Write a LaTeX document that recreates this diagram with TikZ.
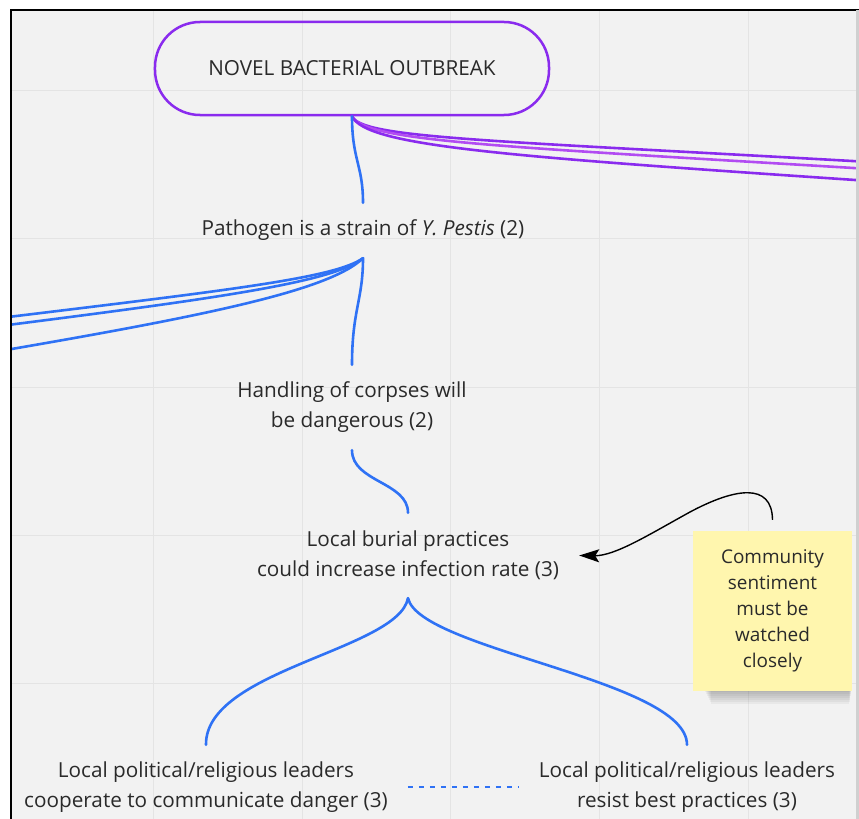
\documentclass[tikz,border=0pt]{standalone}
\usepackage{fontspec}
\setmainfont{Open Sans}
\usetikzlibrary{arrows.meta,calc}
\definecolor{bg}{HTML}{F2F2F2}
\definecolor{gridc}{HTML}{E4E4E4}
\definecolor{ink}{HTML}{2A2A2A}
\definecolor{bluel}{HTML}{2F72F5}
\definecolor{purp}{HTML}{8A2BEE}
\definecolor{purpl}{HTML}{B24CF2}
\definecolor{sticky}{HTML}{FFF6AE}
\tikzset{
  txt/.style={align=center, font=\fontsize{20.8}{30}\selectfont, text=ink, inner xsep=20bp, inner ysep=0pt},
  pill/.style={draw=purp, line width=2.5bp, rounded corners=45bp, minimum width=394bp, minimum height=93bp, font=\fontsize{20.8}{24}\selectfont, text=ink},
  conn/.style={draw=bluel, line width=2.6bp, line cap=round},
  pconn/.style={draw=purp, line width=2.6bp, line cap=round},
  note/.style={fill=sticky, minimum width=159bp, minimum height=160bp, align=center, font=\fontsize{19}{26}\selectfont, text=ink, inner sep=0pt}
}
\begin{document}
\begin{tikzpicture}[x=1bp,y=-1bp]
\useasboundingbox (0,0) rectangle (859,819);
\fill[white] (0,0) rectangle (859,819);
\fill[bg] (11,10) rectangle (859,819);
\begin{scope}
\clip (11,10) rectangle (856,819);
% grid
\foreach \gx in {153,302,450,599,748} \draw[gridc, line width=1bp] (\gx,10) -- (\gx,819);
\foreach \gy in {90,238,387,535,683} \draw[gridc, line width=1bp] (11,\gy) -- (859,\gy);

% nodes
\node[pill] (top) at (352,68.5) {NOVEL BACTERIAL OUTBREAK};
\node[txt, minimum height=55bp] (path) at (363,230.5) {Pathogen is a strain of \textit{Y. Pestis} (2)};
\node[txt, minimum height=85bp] (hand) at (352,407.5) {Handling of corpses will\\be dangerous (2)};
\node[txt, minimum height=85bp] (bur) at (408,555.5) {Local burial practices\\could increase infection rate (3)};
\node[txt, minimum height=84bp] (bl) at (206,787) {Local political/religious leaders\\cooperate to communicate danger (3)};
\node[txt, minimum height=84bp] (br) at (687,787) {Local political/religious leaders\\resist best practices (3)};

% sticky shadow
\foreach \k in {0,...,9}
  \fill[black, opacity=0.04] (702+\k,672+\k*0.5) rectangle (852-\k*0.3,686+\k*2);
\node[note] (note) at (772.5,611) {Community\\sentiment\\must be\\watched\\closely};

% off-frame coordinates
\coordinate (r1) at (870,162);
\coordinate (r2) at (870,169);
\coordinate (r3) at (870,181);
\coordinate (l1) at (0,318);
\coordinate (l2) at (0,326);
\coordinate (l3) at (0,351);

% purple connectors
\draw[pconn] (top.south) .. controls (362,138) and (480,140) .. (r1);
\draw[pconn, draw=purpl] (top.south) .. controls (364,141) and (490,146) .. (r2);
\draw[pconn] (top.south) .. controls (366,146) and (500,156) .. (r3);

% blue connectors
\draw[conn] (top.south) .. controls (352,160) and (363,165) .. (path.north);
\draw[conn] (path.south) .. controls (335,278) and (230,290) .. (l1);
\draw[conn] (path.south) .. controls (333,282) and (220,298) .. (l2);
\draw[conn] (path.south) .. controls (330,290) and (210,315) .. (l3);
\draw[conn] (path.south) .. controls (363,300) and (352,310) .. (hand.north);
\draw[conn] (hand.south) .. controls (352,482) and (408,482) .. (bur.north);
\draw[conn] (bur.south) .. controls (398,650) and (205,670) .. (bl.north);
\draw[conn] (bur.south) .. controls (420,650) and (687,680) .. (br.north);
\draw[bluel, line width=1.6bp, dash pattern=on 5bp off 6bp] (bl.east) -- (br.west);

% arrow
\draw[black, line width=1.4bp, -{Stealth[length=20bp, width=13bp, inset=4bp]}]
  ($(note.north)+(0,-11)$) .. controls (772,482) and (735,488) .. (690,512)
  .. controls (650,534) and (615,556) .. (bur.east);
\end{scope}
% frame
\draw[black, line width=1.5bp] (11,819) -- (11,10) -- (859,10);
\fill[gridc!80!gray] (856,10) rectangle (859,819);
\end{tikzpicture}
\end{document}
